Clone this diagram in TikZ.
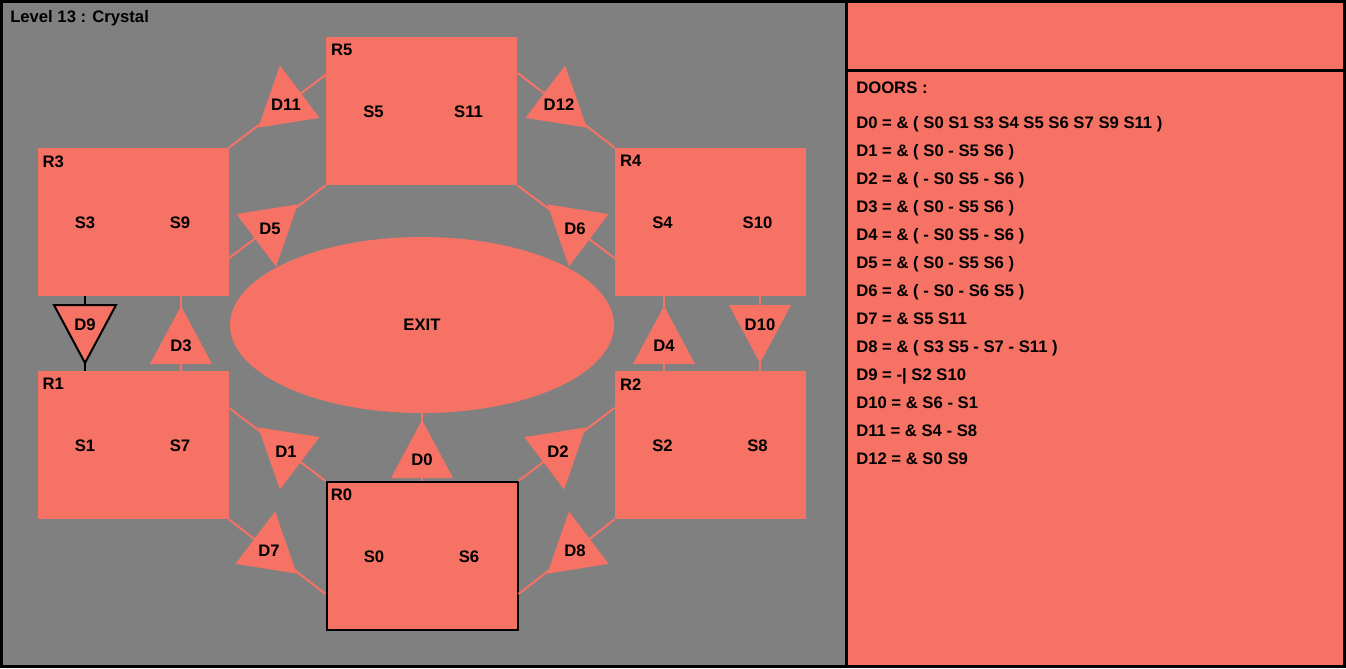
\documentclass[tikz,border=0pt]{standalone}
\usepackage{fontspec}
\setmainfont{Liberation Sans}
\usetikzlibrary{shapes.geometric,calc}

\definecolor{salmon}{RGB}{246,114,100}
\definecolor{floor}{RGB}{128,128,128}

\tikzset{
  lbl/.style={font=\fontsize{12.5}{14}\selectfont\bfseries, inner sep=0pt},
  room/.style={fill=salmon, inner sep=0pt, minimum width=191*0.75pt, minimum height=148*0.75pt},
  room0/.style={room, draw=black, line width=1.5pt},
  link/.style={salmon, line width=1.5pt},
  door/.style={fill=salmon},
  door9/.style={fill=salmon, draw=black, line width=1.5pt},
}

\begin{document}
\begin{tikzpicture}[x=0.75pt, y=-0.75pt]
  % frame and panels
  \fill[black] (0,0) rectangle (1346,668);
  \fill[floor] (3,3) rectangle (845,665);
  \fill[salmon] (848,3) rectangle (1343,69);
  \fill[salmon] (848,72) rectangle (1343,665);
  \node[lbl, anchor=west] (title) at (10,18) {Level 13 : Crystal};

  % rooms
  \foreach \r/\x/\y/\a/\b/\s in {R5/421.5/111/S5/S11/room, R3/133/222/S3/S9/room,
      R4/710.5/222/S4/S10/room, R1/133/445/S1/S7/room, R2/710.5/445/S2/S8/room,
      R0/422/556/S0/S6/room0} {
    \node[\s] (\r) at (\x,\y) {};
    \node[lbl, anchor=north west] at ($(\r.north west)+(5,7.5)$) {\r};
    \node[lbl] at ($(\r)+(-48,0.5)$) {\a};
    \node[lbl] at ($(\r)+(47,0.5)$) {\b};
  }
  \node[ellipse, fill=salmon, inner sep=0pt, minimum width=384*0.75pt,
    minimum height=176*0.75pt, lbl] (EXIT) at (422,325) {EXIT};

  % links through the doors
  \draw[link] (R3.north east) -- ($(R5.north west)+(0,38)$);
  \draw[link] ($(R5.north east)+(0,36)$) -- (R4.north west);
  \draw[link] ($(R3.south east)+(0,-38)$) -- (R5.south west);
  \draw[link] (R5.south east) -- ($(R4.south west)+(0,-38)$);
  \draw[black, line width=1.5pt] ($(R3.south west)+(48,0)$) -- ($(R1.north west)+(48,0)$);
  \draw[link] ($(R3.south east)+(-48,0)$) -- ($(R1.north east)+(-48,0)$);
  \draw[link] ($(R4.south west)+(49,0)$) -- ($(R2.north west)+(49,0)$);
  \draw[link] ($(R4.south east)+(-46,0)$) -- ($(R2.north east)+(-46,0)$);
  \draw[link] ($(R1.north east)+(0,37)$) -- (R0.north west);
  \draw[link] (R0.north east) -- ($(R2.north west)+(0,37)$);
  \draw[link] (R1.south east) -- ($(R0.south west)+(0,-37)$);
  \draw[link] ($(R0.south east)+(0,-37)$) -- (R2.south west);
  \draw[link] (EXIT.south) -- (R0.north);

  % doors
  \foreach \d/\x/\y/\t/\s in {D0/422/459/0/door, D1/286/451/171/door, D2/558/451/189/door,
      D3/181/345/0/door, D4/664/345/0/door, D5/270/228/189/door, D6/575/228/171/door,
      D7/269/550/-9/door, D8/575/550/9/door, D9/85/324/180/door9, D10/760/324/180/door,
      D11/286/104/9/door, D12/559/104/-9/door} {
    \begin{scope}[shift={(\x,\y)}, rotate=\t]
      \path[\s] (0,-39) -- (31,19) -- (-31,19) -- cycle;
    \end{scope}
    \node[lbl] (\d) at (\x,\y+0.5) {\d};
  }

  % door list
  \node[lbl, anchor=base west] (doors) at (856,93.5) {DOORS :};
  \foreach \i/\txt in {0/{D0 = \& ( S0 S1 S3 S4 S5 S6 S7 S9 S11 )},
      1/{D1 = \& ( S0 - S5 S6 )}, 2/{D2 = \& ( - S0 S5 - S6 )},
      3/{D3 = \& ( S0 - S5 S6 )}, 4/{D4 = \& ( - S0 S5 - S6 )},
      5/{D5 = \& ( S0 - S5 S6 )}, 6/{D6 = \& ( - S0 - S6 S5 )},
      7/{D7 = \& S5 S11}, 8/{D8 = \& ( S3 S5 - S7 - S11 )},
      9/{D9 = -| S2 S10}, 10/{D10 = \& S6 - S1}, 11/{D11 = \& S4 - S8},
      12/{D12 = \& S0 S9}} {
    \node[lbl, anchor=base west] (rule\i) at (856,128.5+28*\i) {\txt};
  }
\end{tikzpicture}
\end{document}
